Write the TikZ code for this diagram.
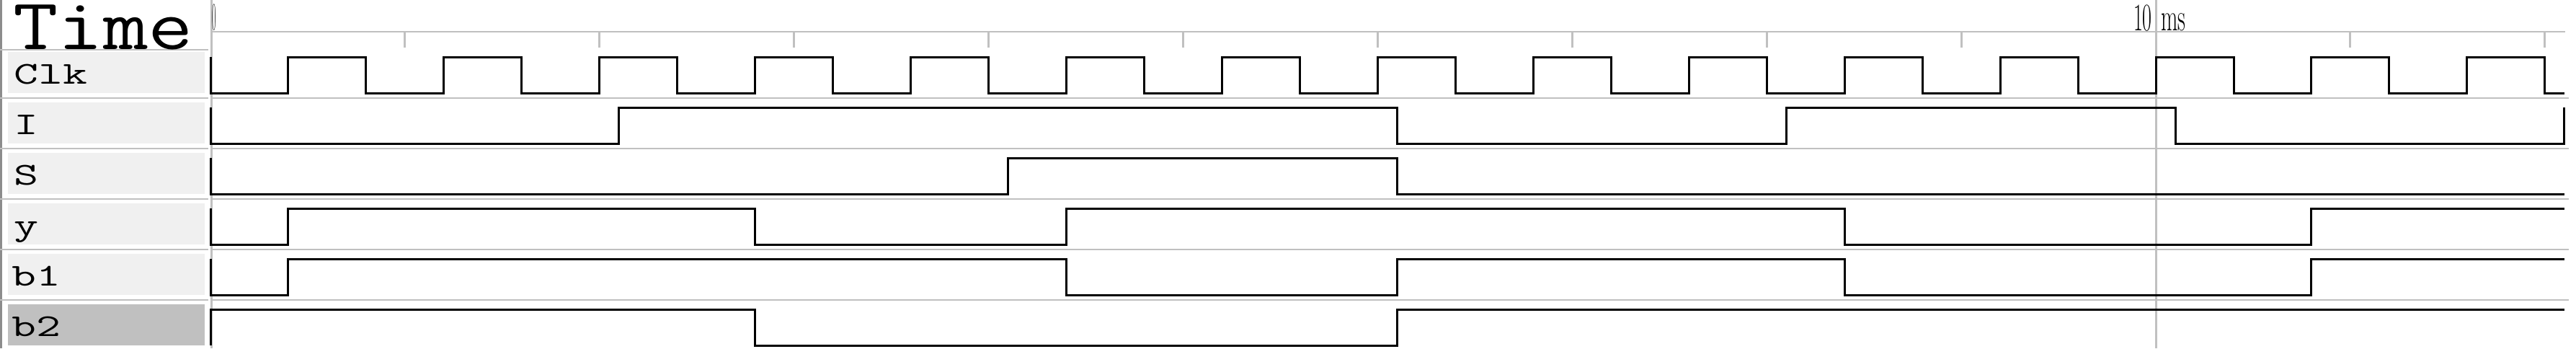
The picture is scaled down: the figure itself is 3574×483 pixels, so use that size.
\documentclass[tikz,border=0pt]{standalone}
\usepackage{fontspec}
\usepackage{graphicx}
\definecolor{gridgrey}{HTML}{C0C0C0}
\definecolor{boxgrey}{HTML}{F0F0F0}
\definecolor{selgrey}{HTML}{C0C0C0}
\definecolor{edgegrey}{HTML}{8C8C8C}
\tikzset{
  sig/.style={line width=3pt, black, line join=miter},
  gridline/.style={line width=2.6pt, gridgrey},
  namebox/.style={fill=boxgrey, draw=none},
  lbl/.style={anchor=base west, inner sep=0pt},
  declare function={tx(\t)=292+269.9*\t;}
}
\newcommand{\lblfont}[1]{\scalebox{1.5}[1]{\fontsize{44}{44}\selectfont\ttfamily #1}}
\begin{document}
\begin{tikzpicture}[x=1pt,y=-1pt]
\useasboundingbox (0,0) rectangle (3574,483);
% left border
\draw[line width=2.5pt, edgegrey] (1.5,0) -- (1.5,483);
% label boxes
\foreach \r in {0,...,4} {
  \fill[boxgrey] (11,{72+70*\r}) rectangle (284,{129+70*\r});
}
\fill[selgrey] (11,422) rectangle (284,479);
% left separators
\foreach \yy in {69,136,206,276,346,416} {
  \draw[gridline] (0,\yy) -- (289,\yy);
}
% right separators
\foreach \yy in {136,206,276,346,416} {
  \draw[gridline] (293,\yy) -- (3564,\yy);
}
% axis
\draw[gridline] (293,44) -- (3559,44);
\foreach \k in {1,...,12} {
  \draw[line width=3pt, gridgrey] ({tx(\k)},44) -- ({tx(\k)},66);
}
% panel line and 10 ms cursor line
\draw[line width=2.5pt, gridgrey] (293.5,0) -- (293.5,483);
\draw[line width=3pt, gridgrey] ({tx(10)},0) -- ({tx(10)},483);
% texts
\node[lbl] (time) at (18,68) {\scalebox{1.2}[1]{\fontsize{101}{101}\selectfont\ttfamily Time}};
\node[lbl] (lclk) at (19,116) {\lblfont{Clk}};
\node[lbl] (li)   at (19,186) {\lblfont{I}};
\node[lbl] (ls)   at (19,256) {\lblfont{S}};
\node[lbl] (ly)   at (19,326) {\lblfont{y}};
\node[lbl] (lb1)  at (16,396) {\lblfont{b1}};
\node[lbl] (lb2)  at (16,466) {\lblfont{b2}};
\node[anchor=base west, inner sep=0pt] (zero) at (294,41) {\scalebox{0.22}[1]{\fontsize{54}{54}\selectfont 0}};
\node[anchor=base east, inner sep=0pt] (ten) at (2986,42) {\scalebox{0.52}[1]{\fontsize{54}{54}\selectfont 10}};
\node[anchor=base west, inner sep=0pt] (ms) at (2998,42) {\scalebox{0.56}[1]{\fontsize{54}{54}\selectfont ms}};
% Clk
\draw[sig] ({tx(0)},79) -- ({tx(0)},129)
  \foreach \k in {0,...,14} {
    -- ({tx(0.8*\k+0.4)},129) -- ({tx(0.8*\k+0.4)},79)
    -- ({tx(0.8*\k+0.8)},79) -- ({tx(0.8*\k+0.8)},129)
  } -- ({tx(12.1)},129);
% I
\draw[sig] ({tx(0)},149) -- ({tx(0)},199) -- ({tx(2.1)},199) -- ({tx(2.1)},149)
  -- ({tx(6.1)},149) -- ({tx(6.1)},199) -- ({tx(8.1)},199) -- ({tx(8.1)},149)
  -- ({tx(10.1)},149) -- ({tx(10.1)},199) -- ({tx(12.1)},199) -- ({tx(12.1)},149);
% S
\draw[sig] ({tx(0)},219) -- ({tx(0)},269) -- ({tx(4.1)},269) -- ({tx(4.1)},219)
  -- ({tx(6.1)},219) -- ({tx(6.1)},269) -- ({tx(12.1)},269);
% y
\draw[sig] ({tx(0)},289) -- ({tx(0)},339) -- ({tx(0.4)},339) -- ({tx(0.4)},289)
  -- ({tx(2.8)},289) -- ({tx(2.8)},339) -- ({tx(4.4)},339) -- ({tx(4.4)},289)
  -- ({tx(8.4)},289) -- ({tx(8.4)},339) -- ({tx(10.8)},339) -- ({tx(10.8)},289)
  -- ({tx(12.1)},289);
% b1
\draw[sig] ({tx(0)},359) -- ({tx(0)},409) -- ({tx(0.4)},409) -- ({tx(0.4)},359)
  -- ({tx(4.4)},359) -- ({tx(4.4)},409) -- ({tx(6.1)},409) -- ({tx(6.1)},359)
  -- ({tx(8.4)},359) -- ({tx(8.4)},409) -- ({tx(10.8)},409) -- ({tx(10.8)},359)
  -- ({tx(12.1)},359);
% b2
\draw[sig] ({tx(0)},479) -- ({tx(0)},429) -- ({tx(2.8)},429) -- ({tx(2.8)},479)
  -- ({tx(6.1)},479) -- ({tx(6.1)},429) -- ({tx(12.1)},429);
\end{tikzpicture}
\end{document}
